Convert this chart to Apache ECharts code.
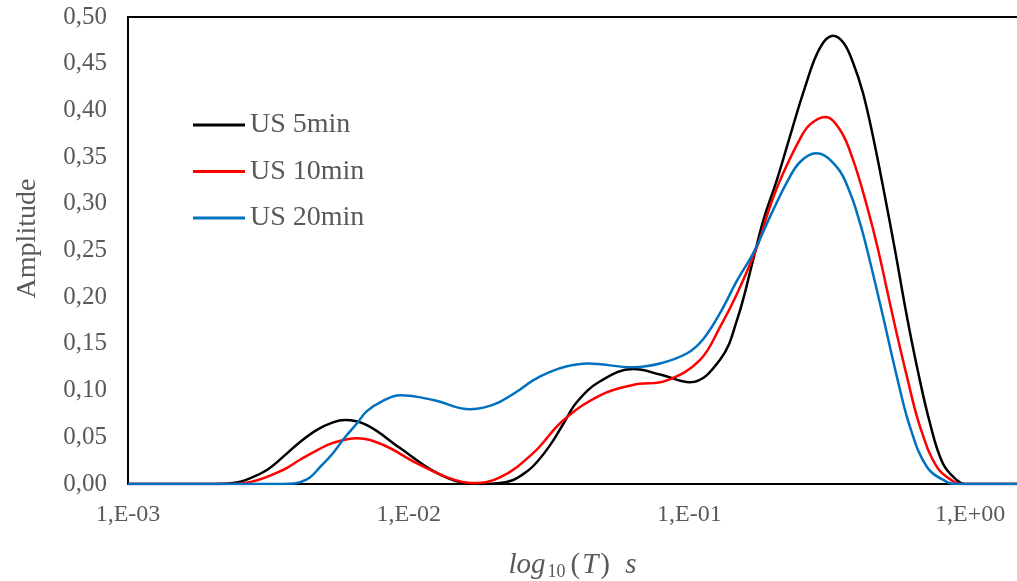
<!DOCTYPE html>
<html>
<head>
<meta charset="utf-8">
<title>Amplitude</title>
<script src="https://cdn.jsdelivr.net/npm/echarts@6/dist/echarts.min.js"></script>
<style>
  html, body { margin: 0; padding: 0; background: #fff; }
  #chart { width: 1017px; height: 581px; }
</style>
</head>
<body>
<div id="chart"></div>
<script>
// x values are log10(T), T in seconds; y values are amplitudes
var seriesNames = ['US 5min', 'US 10min', 'US 20min'];
var seriesColors = ['#000000', '#ff0000', '#0070c0'];

var logT5 = [-3.0, -2.7, -2.626, -2.566, -2.505, -2.448, -2.387, -2.327, -2.27, -2.227, -2.149, -2.031, -1.913, -1.817, -1.74, -1.675, -1.63, -1.6, -1.557, -1.5, -1.45, -1.4, -1.318, -1.201, -1.101, -0.998, -0.891, -0.83, -0.773, -0.737, -0.688, -0.642, -0.588, -0.535, -0.488, -0.45, -0.417, -0.382, -0.346, -0.31, -0.268, -0.225, -0.189, -0.143, -0.097, -0.047, -0.02, 0.2];
var amp5 = [0, 0, 0.001, 0.006, 0.015, 0.029, 0.045, 0.058, 0.066, 0.0685, 0.063, 0.0385, 0.014, 0.002, 0, 0.001, 0.004, 0.009, 0.019, 0.040, 0.064, 0.088, 0.110, 0.123, 0.117, 0.109, 0.133, 0.176, 0.240, 0.282, 0.326, 0.372, 0.425, 0.467, 0.480, 0.472, 0.451, 0.419, 0.372, 0.318, 0.251, 0.179, 0.125, 0.065, 0.022, 0.004, 0, 0];

var logT10 = [-3.0, -2.65, -2.566, -2.448, -2.387, -2.327, -2.27, -2.184, -2.092, -1.97, -1.853, -1.771, -1.675, -1.557, -1.45, -1.318, -1.201, -1.08, -0.962, -0.891, -0.83, -0.759, -0.713, -0.67, -0.605, -0.57, -0.517, -0.463, -0.417, -0.367, -0.328, -0.275, -0.225, -0.178, -0.118, -0.061, -0.03, 0.2];
var amp10 = [0, 0, 0.002, 0.015, 0.026, 0.036, 0.044, 0.049, 0.042, 0.022, 0.006, 0.001, 0.007, 0.033, 0.068, 0.095, 0.106, 0.111, 0.133, 0.168, 0.204, 0.254, 0.297, 0.330, 0.370, 0.385, 0.393, 0.379, 0.347, 0.297, 0.251, 0.179, 0.115, 0.061, 0.018, 0.003, 0, 0];

var logT20 = [-3.0, -2.45, -2.41, -2.387, -2.352, -2.316, -2.27, -2.227, -2.184, -2.149, -2.092, -2.031, -1.913, -1.781, -1.73, -1.675, -1.614, -1.557, -1.496, -1.436, -1.364, -1.201, -1.105, -1.008, -0.951, -0.891, -0.83, -0.773, -0.713, -0.649, -0.605, -0.549, -0.474, -0.428, -0.392, -0.367, -0.31, -0.261, -0.214, -0.153, -0.082, -0.05, 0.2];
var amp20 = [0, 0, 0.0005, 0.002, 0.007, 0.018, 0.033, 0.050, 0.065, 0.078, 0.089, 0.095, 0.090, 0.080, 0.082, 0.088, 0.099, 0.111, 0.120, 0.126, 0.129, 0.125, 0.129, 0.140, 0.155, 0.183, 0.218, 0.247, 0.286, 0.325, 0.345, 0.354, 0.339, 0.312, 0.279, 0.251, 0.179, 0.115, 0.061, 0.018, 0.002, 0, 0];

function pairs(xs, ys) {
    var out = [];
    for (var i = 0; i < xs.length; i++) {
        out.push([xs[i], ys[i]]);
    }
    return out;
}

var allX = [logT5, logT10, logT20];
var allY = [amp5, amp10, amp20];
var font = '"Liberation Serif", "Times New Roman", serif';
var grey = '#595959';
var xMin = -3, xMax = 0.167;

var series = [];
for (var s = 0; s < seriesNames.length; s++) {
    series.push({
        name: seriesNames[s],
        type: 'line',
        smooth: 0.4,
        symbol: 'none',
        data: pairs(allX[s], allY[s]),
        lineStyle: { color: seriesColors[s], width: 2.5 },
        itemStyle: { color: seriesColors[s] }
    });
}

var myChart = echarts.init(document.getElementById('chart'));
var option = {
    animation: false,
    backgroundColor: '#fff',
    grid: {
        left: 128,
        top: 17,
        right: 0,
        bottom: 97,
        outerBoundsMode: 'none',
        containLabel: false
    },
    legend: {
        orient: 'vertical',
        left: 193,
        top: 111,
        padding: 0,
        itemWidth: 52,
        itemHeight: 3,
        itemGap: 18.5,
        icon: 'rect',
        data: seriesNames,
        textStyle: { fontFamily: font, fontSize: 28, color: grey }
    },
    xAxis: [{
        type: 'value',
        min: xMin,
        max: xMax,
        interval: 1,
        axisLine: { show: true, onZero: false, lineStyle: { color: '#000', width: 2 } },
        axisTick: { show: false },
        splitLine: { show: false },
        axisLabel: {
            margin: 19,
            fontFamily: font,
            fontSize: 24,
            color: grey,
            showMaxLabel: false,
            formatter: function (v) {
                if (Math.abs(v - Math.round(v)) > 1e-6) return '';
                var p = Math.round(v);
                var a = Math.abs(p);
                return '1,E' + (p < 0 ? '-' : '+') + (a < 10 ? '0' : '') + a;
            }
        },
        name: '{i|log}{sub|10}{n|(}{i|T}{n|)}    {i|s}',
        nameLocation: 'middle',
        nameGap: 64,
        nameTextStyle: {
            rich: {
                i: { fontFamily: font, fontStyle: 'italic', fontSize: 29, color: grey, lineHeight: 34 },
                n: { fontFamily: font, fontSize: 29, color: grey, lineHeight: 34, padding: [0, 2, 0, 2] },
                sub: { fontFamily: font, fontSize: 18, color: grey, lineHeight: 34, padding: [14, 3, 0, 2] }
            }
        }
    }, {
        type: 'value',
        position: 'top',
        min: xMin,
        max: xMax,
        axisLine: { show: true, onZero: false, lineStyle: { color: '#000', width: 2 } },
        axisTick: { show: false },
        axisLabel: { show: false },
        splitLine: { show: false }
    }],
    yAxis: {
        type: 'value',
        min: 0,
        max: 0.5,
        interval: 0.05,
        axisLine: { show: true, onZero: false, lineStyle: { color: '#000', width: 2 } },
        axisTick: { show: false },
        splitLine: { show: false },
        axisLabel: {
            margin: 21,
            fontFamily: font,
            fontSize: 25,
            color: grey,
            formatter: function (v) {
                return v.toFixed(2).replace('.', ',');
            }
        },
        name: 'Amplitude',
        nameLocation: 'middle',
        nameGap: 86,
        nameTextStyle: { fontFamily: font, fontSize: 28, color: grey, padding: [0, 0, 0, 24] }
    },
    series: series
};

myChart.setOption(option);
</script>
</body>
</html>
